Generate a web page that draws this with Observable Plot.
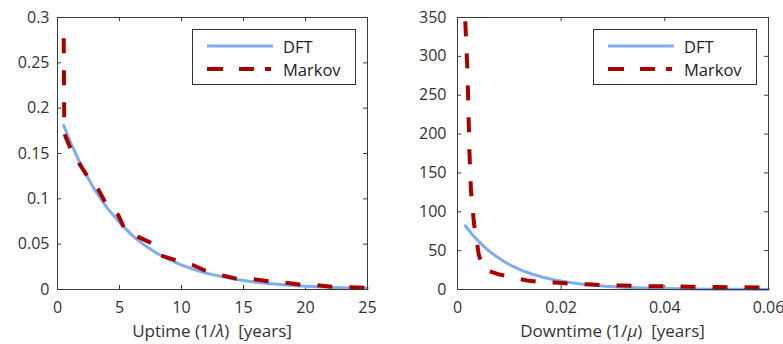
<!DOCTYPE html>
<html><head><meta charset="utf-8">
<script src="https://cdn.jsdelivr.net/npm/d3@7"></script>
<script src="https://cdn.jsdelivr.net/npm/@observablehq/plot@0.6"></script>
<style>
body{margin:0;background:#fff;font-family:"Open Sans",sans-serif;}
#wrap{position:relative;width:783px;height:344px;display:flex;overflow:hidden;}
.panel{position:relative;}
.xlabel{position:absolute;font-size:17px;color:#333;white-space:pre;line-height:20px;transform:translateX(-50%);}
.legend{position:absolute;border:1px solid #333;background:#fff;box-sizing:border-box;}
.legend .row{position:absolute;left:0;height:20px;display:flex;align-items:center;}
.legend .row span{font-size:16.5px;color:#222;margin-left:10px;}
</style></head>
<body>
<div id="wrap"></div>
<script>
// ---- data ----
const seriesNames = ["DFT", "Markov"];
const upTicksX = [0, 5, 10, 15, 20, 25];
const upTicksY = [0, 0.05, 0.1, 0.15, 0.2, 0.25, 0.3];
const downTicksX = [0, 0.02, 0.04, 0.06];
const downTicksY = [0, 50, 100, 150, 200, 250, 300, 350];

const upDftX = [0.5, 1, 2, 3, 4, 5, 6, 7, 8, 9, 10, 11, 12, 13, 14, 15, 16, 17, 18, 19, 20, 21, 22, 23, 24, 25];
const upDftY = [0.181, 0.164, 0.134, 0.110, 0.090, 0.074, 0.060, 0.049, 0.040, 0.033, 0.027, 0.022, 0.018, 0.015, 0.012, 0.010, 0.008, 0.0067, 0.0055, 0.0045, 0.0037, 0.003, 0.0025, 0.002, 0.0016, 0.0013];
const upMarkovX = [0.5, 0.55, 0.7, 1.1, 1.8, 2.5, 3.3, 3.9, 4.9, 5.4, 6.5, 7.6, 8.2, 9.6, 10.9, 11.9, 13.3, 14.4, 15.7, 17.0, 18.3, 19.5, 20.9, 22.1, 23.5, 25.0];
const upMarkovY = [0.277, 0.172, 0.167, 0.154, 0.138, 0.123, 0.110, 0.095, 0.082, 0.067, 0.058, 0.051, 0.038, 0.032, 0.027, 0.021, 0.0156, 0.012, 0.0115, 0.0092, 0.0075, 0.0055, 0.0048, 0.003, 0.0026, 0.0018];

const downDftX = [0.0015, 0.003, 0.0045, 0.006, 0.0075, 0.009, 0.0105, 0.0125, 0.0145, 0.0165, 0.019, 0.022, 0.025, 0.0285, 0.032, 0.036, 0.04, 0.045, 0.05, 0.055, 0.06];
const downDftY = [82, 69.5, 59, 50, 42.4, 35.9, 30.5, 24.4, 19.6, 15.7, 12.0, 8.6, 6.2, 4.2, 2.9, 1.8, 1.2, 0.7, 0.4, 0.23, 0.13];
const downMarkovX = [0.0015, 0.0019, 0.0021, 0.0023, 0.0026, 0.0032, 0.0041, 0.005, 0.0077, 0.0102, 0.0134, 0.0163, 0.0195, 0.0224, 0.026, 0.0286, 0.032, 0.035, 0.04, 0.045, 0.05, 0.055, 0.06];
const downMarkovY = [345, 285, 234, 178, 127, 84, 45, 26, 20, 16, 11.5, 9.4, 8.6, 7.3, 6.4, 5.5, 5, 4.5, 4, 3.6, 3.2, 2.8, 2.5];

const BLUE = "#7eadf0", RED = "#a80000", AX = "#3a3a3a";
const DASH = "15,17";

function pts(xs, ys){ return xs.map((x,i)=>({x, y: ys[i]})); }

function panel(opts){
  const H = 344, mt = 17, mb = 55;
  const ih = H - mt - mb, iw = opts.width - opts.ml - opts.mr;
  const fmt = d => String(d);
  const svg = Plot.plot({
    width: opts.width, height: H,
    marginTop: mt, marginBottom: mb, marginLeft: opts.ml, marginRight: opts.mr,
    style: {fontFamily: '"Open Sans", sans-serif', fontSize: "16px", color: "#333", background: "#fff"},
    x: {domain: opts.xd},
    y: {domain: opts.yd},
    marks: [
      Plot.axisX({ticks: opts.xt, tickSize: 0, tickPadding: 12, tickFormat: fmt, label: null, fill: "#333"}),
      Plot.axisY({ticks: opts.yt, tickSize: 0, tickPadding: opts.ypad, tickFormat: fmt, label: null, fill: "#333"}),
      Plot.ruleX(opts.xt, {x: d=>d, insetTop: ih - 4, stroke: AX}),
      Plot.ruleX(opts.xt, {x: d=>d, insetBottom: ih - 4, stroke: AX}),
      Plot.ruleY(opts.yt, {y: d=>d, insetRight: iw - 4, stroke: AX}),
      Plot.ruleY(opts.yt, {y: d=>d, insetLeft: iw - 4, stroke: AX}),
      Plot.line(pts(opts.dftX, opts.dftY), {x: "x", y: "y", stroke: BLUE, strokeWidth: 3}),
      Plot.line(pts(opts.mkX, opts.mkY), {x: "x", y: "y", stroke: RED, strokeWidth: 4, strokeDasharray: DASH, strokeLinecap: "butt", curve: "linear"}),
      Plot.frame({stroke: AX, strokeWidth: 1})
    ]
  });
  const div = document.createElement("div");
  div.className = "panel";
  div.style.width = opts.width + "px";
  div.appendChild(svg);
  const lab = document.createElement("div");
  lab.className = "xlabel";
  lab.style.left = (opts.ml + iw/2) + "px";
  lab.style.top = "321px";
  lab.innerHTML = opts.label;
  div.appendChild(lab);
  const lg = document.createElement("div");
  lg.className = "legend";
  lg.style.left = (opts.ml + iw - 11 - 164) + "px";
  lg.style.top = "29px";
  lg.style.width = "164px";
  lg.style.height = "56px";
  const rows = [
    {name: seriesNames[0], stroke: BLUE, w: 3, dash: null, top: 6},
    {name: seriesNames[1], stroke: RED, w: 4, dash: "16,16,15,11,6", top: 29}
  ];
  for (const r of rows){
    const row = document.createElement("div");
    row.className = "row";
    row.style.top = r.top + "px";
    row.style.left = "14px";
    row.innerHTML = `<svg width="66" height="20"><line x1="0" x2="66" y1="10" y2="10" stroke="${r.stroke}" stroke-width="${r.w}" ${r.dash ? `stroke-dasharray="${r.dash}"` : ""}/></svg><span>${r.name}</span>`;
    lg.appendChild(row);
  }
  div.appendChild(lg);
  return div;
}

const wrap = document.getElementById("wrap");
wrap.appendChild(panel({width: 392, ml: 57, mr: 25, ypad: 8, xd: [0, 25], yd: [0, 0.3], xt: upTicksX, yt: upTicksY,
  dftX: upDftX, dftY: upDftY, mkX: upMarkovX, mkY: upMarkovY,
  label: 'Uptime (1/<i>λ</i>)&nbsp; [years]'}));
wrap.appendChild(panel({width: 391, ml: 65, mr: 15, ypad: 11, xd: [0, 0.06], yd: [0, 350], xt: downTicksX, yt: downTicksY,
  dftX: downDftX, dftY: downDftY, mkX: downMarkovX, mkY: downMarkovY,
  label: 'Downtime (1/<i>μ</i>)&nbsp; [years]'}));
</script>
</body></html>
